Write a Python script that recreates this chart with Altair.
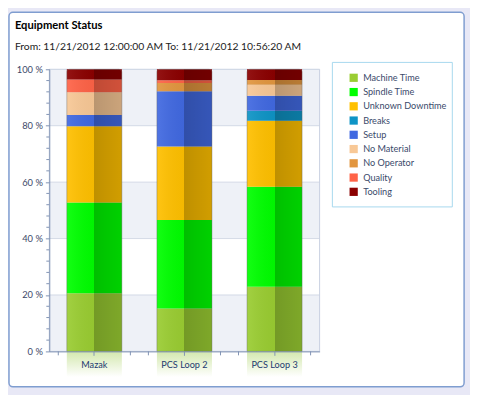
import altair as alt
import pandas as pd

machines = ["Mazak", "PCS Loop 2", "PCS Loop 3"]
statuses = ["Machine Time", "Spindle Time", "Unknown Downtime", "Breaks", "Setup",
            "No Material", "No Operator", "Quality", "Tooling"]
colors = ["#9ACD32", "#00FF00", "#FFC000", "#0E94C6", "#4169E1",
          "#F8C896", "#E2963F", "#FF6347", "#8B0000"]
mazak = [20.6, 32.2, 27.0, 0.0, 4.0, 8.1, 0.0, 4.5, 3.6]
loop2 = [15.2, 31.4, 26.0, 0.0, 19.6, 0.0, 2.9, 1.0, 3.9]
loop3 = [22.9, 35.5, 23.4, 3.5, 5.3, 3.9, 1.7, 0.0, 3.8]
title_text = "Equipment Status"
subtitle_text = "From: 11/21/2012 12:00:00 AM To: 11/21/2012 10:56:20 AM"
y_ticks = [0, 20, 40, 60, 80, 100]
y_minor = [v for v in range(4, 100, 4) if v % 20 != 0]
x_minor = [k + 0.5 for k in range(15)]
band_lo = [0, 40, 80]
band_hi = [20, 60, 100]

FONT = "Lato"
W, H = 275, 287
AX = "#8193b4"

rows = []
for m, vals in zip(machines, [mazak, loop2, loop3]):
    for i, (s, v) in enumerate(zip(statuses, vals)):
        rows.append({"machine": m, "status": s, "value": v, "idx": i})
df = pd.DataFrame(rows)
one = pd.DataFrame({"t": [title_text], "s": [subtitle_text]})

yscale = alt.Scale(domain=[0, 100], nice=False, zero=True)
xscale = alt.Scale(domain=machines, paddingInner=0, paddingOuter=0)
yaxis = alt.Axis(values=y_ticks, labelExpr="datum.value + ' %'", grid=False, title=None,
                 domainColor=AX, tickColor=AX, tickSize=4,
                 labelColor="#3c4868", labelFont=FONT, labelFontSize=9.5,
                 labelPadding=3, zindex=1)

frame = alt.Chart(one).mark_rect(fill="white", stroke="#7f9dd0", strokeWidth=1.5,
                                 cornerRadius=4, clip=False).encode(
    x=alt.value(-41), x2=alt.value(422), y=alt.value(-58), y2=alt.value(323))

title = alt.Chart(one).mark_text(align="left", baseline="alphabetic", font=FONT,
                                 fontSize=11.4, fontWeight="bold", color="#000000").encode(
    text="t:N", x=alt.value(-35), y=alt.value(-40.5))
subtitle = alt.Chart(one).mark_text(align="left", baseline="alphabetic", font=FONT,
                                    fontSize=10.5, color="#222222").encode(
    text="s:N", x=alt.value(-35), y=alt.value(-19.3))

legbox = alt.Chart(one).mark_rect(fill="white", stroke="#a6d8ee", strokeWidth=1).encode(
    x=alt.value(288), x2=alt.value(410), y=alt.value(-7), y2=alt.value(140))

bands = alt.Chart(pd.DataFrame({"lo": band_lo, "hi": band_hi})).mark_rect(
    fill="#eef1f7").encode(
    y=alt.Y("lo:Q", scale=yscale, axis=yaxis), y2="hi:Q",
    x=alt.value(0), x2=alt.value(W))

grid = alt.Chart(pd.DataFrame({"v": y_ticks[1:-1]})).mark_rule(
    color="#d3d9e6", strokeWidth=1).encode(
    y=alt.Y("v:Q", scale=yscale, axis=yaxis), x=alt.value(0), x2=alt.value(W))

border = alt.Chart(one).mark_rect(fillOpacity=0, stroke="#c8d0e0", strokeWidth=1).encode(
    x=alt.value(0), x2=alt.value(W), y=alt.value(0), y2=alt.value(H))

yminor = alt.Chart(pd.DataFrame({"v": y_minor})).mark_rule(color=AX).encode(
    y=alt.Y("v:Q", scale=yscale, axis=yaxis), x=alt.value(-3), x2=alt.value(0))

xminor = alt.Chart(pd.DataFrame({"p": x_minor})).mark_rule(color=AX, clip=False).encode(
    x=alt.X("p:Q", scale=alt.Scale(domain=[0, 15], nice=False, zero=False), axis=None),
    y=alt.value(H), y2=alt.value(H + 4))

glow_fill = {"gradient": "linear", "x1": 0, "y1": 0, "x2": 0, "y2": 1,
             "stops": [{"offset": 0, "color": "#d3e8ae"},
                       {"offset": 1, "color": "#ffffff"}]}
glow = alt.Chart(pd.DataFrame({"machine": machines})).mark_bar(
    width=56, fill=glow_fill, clip=False).encode(
    x=alt.X("machine:N", sort=machines, scale=xscale, axis=None),
    y=alt.value(H), y2=alt.value(H + 26))

bars = alt.Chart(df).mark_bar(width=56).encode(
    x=alt.X("machine:N", sort=machines, scale=xscale, title=None,
            axis=alt.Axis(labelAngle=0, domainColor=AX, tickColor=AX, tickSize=4,
                          labelColor="#1d3a70", labelFont=FONT, labelFontSize=9.3,
                          labelPadding=5, zindex=1)),
    y=alt.Y("value:Q", stack="zero", scale=yscale, axis=yaxis),
    color=alt.Color("status:N", scale=alt.Scale(domain=statuses, range=colors),
                    legend=alt.Legend(orient="none", legendX=305, legendY=4, title=None,
                                      symbolType="square", symbolSize=70,
                                      symbolStrokeWidth=0, labelFont=FONT,
                                      labelFontSize=9.3, labelColor="#3b4a6b",
                                      rowPadding=4.5, labelOffset=5, padding=0)),
    order=alt.Order("idx:Q"))

shade_fill = {"gradient": "linear", "x1": 0, "y1": 0, "x2": 1, "y2": 0,
              "stops": [{"offset": 0, "color": "rgba(255,255,255,0.08)"},
                        {"offset": 0.5, "color": "rgba(0,0,0,0.04)"},
                        {"offset": 0.5, "color": "rgba(0,0,0,0.25)"},
                        {"offset": 1, "color": "rgba(0,0,0,0.18)"}]}
overlay = alt.Chart(df).mark_bar(width=56, fill=shade_fill, stroke="#666666",
                                 strokeOpacity=0.4, strokeWidth=1,
                                 cornerRadiusTopLeft=3, cornerRadiusTopRight=3).encode(
    x=alt.X("machine:N", sort=machines, scale=xscale, axis=None),
    y=alt.Y("sum(value):Q", scale=yscale, axis=yaxis))

chart = alt.layer(frame, title, subtitle, legbox, bands, grid, border, yminor,
                  xminor, glow, bars, overlay).resolve_scale(x="independent").properties(
    width=W, height=H,
    autosize=alt.AutoSizeParams(type="none"),
    padding={"left": 42, "top": 59, "right": 153, "bottom": 41},
).configure(background="#e8e8f6").configure_view(stroke="transparent")

chart.save("out.html", embed_options={"renderer": "svg", "actions": False})
